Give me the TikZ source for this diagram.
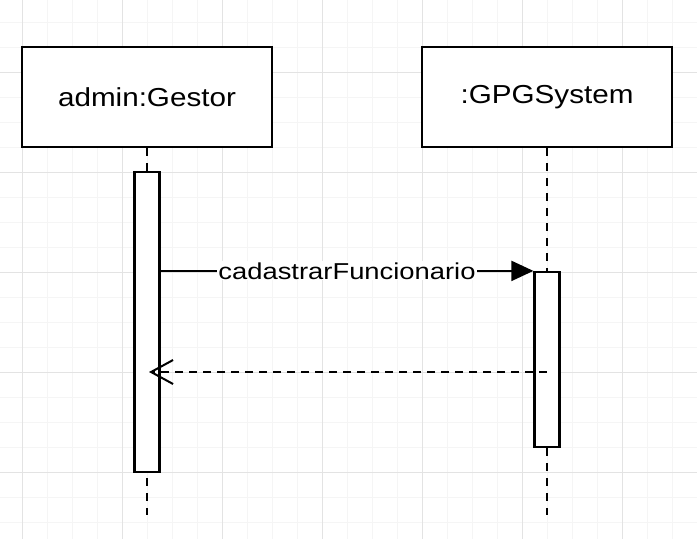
\documentclass[tikz,border=0pt]{standalone}
\usepackage{fontspec}
\setmainfont{Liberation Sans}
\usetikzlibrary{arrows.meta}
\begin{document}
\begin{tikzpicture}[x=1pt,y=1pt,
  objbox/.style={draw=black,line width=2.2pt,fill=white,minimum width=250pt,minimum height=100pt,inner sep=0pt,font=\fontsize{26}{30}\selectfont},
  actbox/.style={draw=black,line width=2.2pt,fill=white,minimum width=25pt,inner sep=0pt},
  lifeline/.style={line width=2.6pt,dash pattern=on 8pt off 7pt},
  callmsg/.style={line width=2pt,-{Triangle[length=22pt,width=20pt]}},
  retmsg/.style={line width=2pt,dash pattern=on 8pt off 6pt,-{Straight Barb[length=22pt,width=24pt,line width=2pt]}},
  msglabel/.style={fill=white,inner sep=1pt,font=\fontsize{23}{27}\selectfont}]
\useasboundingbox (0,0) rectangle (697,-539);
\fill[white] (0,0) rectangle (697,-539);
% grid
\foreach \x in {22,47,...,697} \draw[color=black!4,line width=1pt] (\x,0) -- (\x,-539);
\foreach \y in {22,47,...,539} \draw[color=black!4,line width=1pt] (0,-\y) -- (697,-\y);
\foreach \x in {22,122,...,697} \draw[color=black!11,line width=1pt] (\x,0) -- (\x,-539);
\foreach \y in {72,172,...,539} \draw[color=black!11,line width=1pt] (0,-\y) -- (697,-\y);
% objects
\node[objbox] (a) at (147,-97) {\scalebox{1.14}[1]{admin:Gestor}};
\node[objbox] (b) at (547,-97) {\scalebox{1.14}[1]{:GPGSystem}};
\coordinate (aend) at (147,-515);
\coordinate (bend) at (547,-515);
\draw[lifeline] (a.south) -- (aend);
\draw[lifeline] (b.south) -- (bend);
% activations
\node[actbox,minimum height=300pt] (actA) at (147,-322) {};
\node[actbox,minimum height=175pt] (actB) at (547,-359.5) {};
% messages
\draw[callmsg] (actA.east |- actB.north) -- (actB.north west)
  node[msglabel,pos=0.5] {\scalebox{1.19}[1]{cadastrarFuncionario}};
\coordinate (rs) at (547,-372);
\coordinate (re) at (149,-372);
\draw[retmsg] (rs) -- (re);
\end{tikzpicture}
\end{document}
